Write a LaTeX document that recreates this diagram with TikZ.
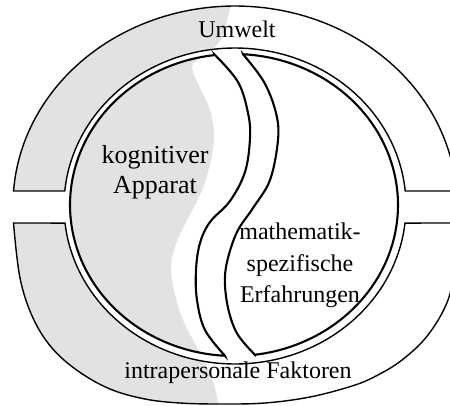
\documentclass[tikz,border=0pt]{standalone}
\usepackage{fontspec}
\setmainfont{Liberation Serif}
\definecolor{lightshade}{RGB}{226,226,226}
\def\TopRingPath{plot[domain=184.04:355.96,samples=100,variable=\t]({235+222*cos(\t)},{205+199*sin(\t)}) -- plot[domain=354.55:185.45,samples=100,variable=\t]({235+171*cos(\t)},{206+158*sin(\t)}) -- cycle}
\def\BotRingPath{plot[smooth,tension=0.6] coordinates {(457,223) (455,262) (448,300) (428,335) (402,360) (376,376) (352,386) (310,397) (265,403) (220,404) (180,403) (145,399) (110,389) (78,371) (52,348) (33,318) (20,278) (13.5,223)} -- plot[domain=173.8:6.2,samples=100,variable=\t]({235+171*cos(\t)},{206+158*sin(\t)}) -- cycle}
\def\LeftRegPath{plot[domain=263.35:93.15,samples=100,variable=\t]({234+164*cos(\t)},{205+151*sin(\t)}) -- plot[smooth,tension=0.6] coordinates {(225,355.8) (205,330) (197,300) (196,270) (200,243) (210,222) (230,201) (245,172) (250,138) (248,113) (238,82) (215,55)} -- cycle}
\def\RightRegPath{plot[domain=273.15:442.64,samples=100,variable=\t]({234+164*cos(\t)},{205+151*sin(\t)}) -- plot[smooth,tension=0.6] coordinates {(255,354.8) (238,335) (229,312) (225,285) (227,262) (237,232) (253,208) (270,180) (278,140) (276,113) (264,82) (243,54.2)} -- cycle}
\begin{document}
\begin{tikzpicture}[x=1pt,y=-1pt,
  ring/.style={draw=black,line width=1.4pt,line join=miter},
  region/.style={draw=black,line width=2.1pt,line join=miter},
  greyfill/.style={fill=lightshade,draw=none},
  lbl/.style={font=\fontsize{24}{30}\selectfont,inner sep=0pt,anchor=base},
  biglbl/.style={font=\fontsize{26}{30}\selectfont,inner sep=0pt,anchor=base}]
\useasboundingbox (0,0) rectangle (450,405);
\fill[white] (0,0) rectangle (450,405);
\begin{scope}
  \clip plot[smooth,tension=0.6] coordinates {(232,-2) (226,25) (218,44) (200,58) (192,67) (200,88) (210,110) (214,135) (211,160) (204,185) (195,205) (183,228) (174,250) (171,270) (175,295) (183,320) (193,340) (205,362) (214,385) (220,410)} -- (-5,410) -- (-5,-2) -- cycle;
  \path[greyfill] \TopRingPath;
  \path[greyfill] \BotRingPath;
  \path[greyfill] \LeftRegPath;
\end{scope}
\draw[ring] \TopRingPath;
\draw[ring] \BotRingPath;
\draw[region] \LeftRegPath;
\draw[region] \RightRegPath;
\node[lbl] (umwelt) at (237,37) {Umwelt};
\node[biglbl] (kog1) at (155,163) {kognitiver};
\node[biglbl] (kog2) at (155,193) {Apparat};
\node[lbl] (mat1) at (300,239) {mathematik-};
\node[lbl] (mat2) at (300,271) {spezifische};
\node[lbl] (mat3) at (300,302) {Erfahrungen};
\node[lbl] (intra) at (238,378) {intrapersonale Faktoren};
\end{tikzpicture}
\end{document}
